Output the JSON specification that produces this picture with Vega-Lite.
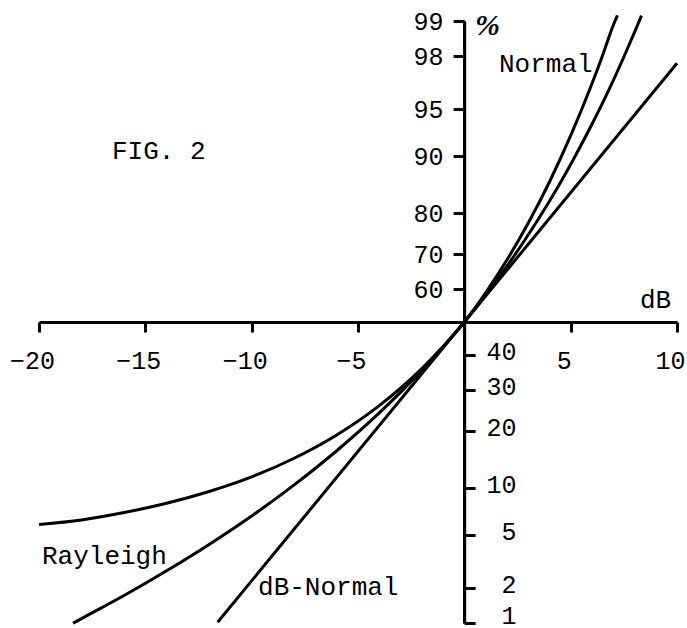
{
  "$schema": "https://vega.github.io/schema/vega-lite/v6.json",
  "width": 638,
  "height": 602,
  "autosize": {"type": "none"},
  "padding": {"left": 39, "top": 21, "right": 10, "bottom": 5},
  "background": "white",
  "config": {
    "view": {"stroke": null},
    "axis": {
      "grid": false,
      "domainColor": "black",
      "domainWidth": 3,
      "tickColor": "black",
      "tickWidth": 3,
      "tickSize": 11,
      "labelColor": "black",
      "labelFont": "Liberation Mono",
      "labelFontSize": 25,
      "labelFlush": false,
      "labelOverlap": false
    }
  },
  "datasets": {
    "curves": [
      {"curve": "Normal", "db": -20, "z": -1.565},
      {"curve": "Normal", "db": -18, "z": -1.53},
      {"curve": "Normal", "db": -16, "z": -1.473},
      {"curve": "Normal", "db": -14, "z": -1.401},
      {"curve": "Normal", "db": -12, "z": -1.31},
      {"curve": "Normal", "db": -10, "z": -1.197},
      {"curve": "Normal", "db": -8, "z": -1.053},
      {"curve": "Normal", "db": -6, "z": -0.873},
      {"curve": "Normal", "db": -4, "z": -0.646},
      {"curve": "Normal", "db": -2, "z": -0.36},
      {"curve": "Normal", "db": -1, "z": -0.19},
      {"curve": "Normal", "db": 0, "z": 0},
      {"curve": "Normal", "db": 1, "z": 0.226},
      {"curve": "Normal", "db": 2, "z": 0.479},
      {"curve": "Normal", "db": 3, "z": 0.763},
      {"curve": "Normal", "db": 4, "z": 1.082},
      {"curve": "Normal", "db": 5, "z": 1.44},
      {"curve": "Normal", "db": 6, "z": 1.841},
      {"curve": "Normal", "db": 6.5, "z": 2.06},
      {"curve": "Normal", "db": 7, "z": 2.292},
      {"curve": "Normal", "db": 7.2, "z": 2.37},
      {"curve": "Rayleigh", "db": -18.4, "z": -2.328},
      {"curve": "Rayleigh", "db": -18, "z": -2.292},
      {"curve": "Rayleigh", "db": -16, "z": -2.114},
      {"curve": "Rayleigh", "db": -14, "z": -1.923},
      {"curve": "Rayleigh", "db": -12, "z": -1.719},
      {"curve": "Rayleigh", "db": -10, "z": -1.499},
      {"curve": "Rayleigh", "db": -8, "z": -1.259},
      {"curve": "Rayleigh", "db": -6, "z": -0.995},
      {"curve": "Rayleigh", "db": -4, "z": -0.703},
      {"curve": "Rayleigh", "db": -2, "z": -0.374},
      {"curve": "Rayleigh", "db": -1, "z": -0.193},
      {"curve": "Rayleigh", "db": 0, "z": 0},
      {"curve": "Rayleigh", "db": 1, "z": 0.207},
      {"curve": "Rayleigh", "db": 2, "z": 0.431},
      {"curve": "Rayleigh", "db": 3, "z": 0.672},
      {"curve": "Rayleigh", "db": 4, "z": 0.933},
      {"curve": "Rayleigh", "db": 5, "z": 1.218},
      {"curve": "Rayleigh", "db": 6, "z": 1.528},
      {"curve": "Rayleigh", "db": 7, "z": 1.866},
      {"curve": "Rayleigh", "db": 7.5, "z": 2.048},
      {"curve": "Rayleigh", "db": 8, "z": 2.238},
      {"curve": "Rayleigh", "db": 8.33, "z": 2.368},
      {"curve": "dB-Normal", "db": -11.6, "z": -2.32},
      {"curve": "dB-Normal", "db": 10, "z": 2.0}
    ],
    "labels": [
      {"label": "FIG. 2", "db": -16.57, "z": 1.26},
      {"label": "Normal", "db": 1.63, "z": 1.932},
      {"label": "Rayleigh", "db": -19.86, "z": -1.87},
      {"label": "dB-Normal", "db": -9.7, "z": -2.11},
      {"label": "dB", "db": 8.26, "z": 0.108}
    ],
    "pct": [
      {"label": "%", "db": 0.5, "z": 2.218}
    ]
  },
  "encoding": {
    "x": {
      "field": "db",
      "type": "quantitative",
      "scale": {"domain": [-20, 10], "nice": false, "zero": false},
      "axis": {
        "orient": "bottom",
        "offset": -301,
        "values": [-20, -15, -10, -5, 5, 10],
        "tickSize": 10,
        "labelBaseline": "alphabetic",
        "labelPadding": 36,
        "labelOffset": -7,
        "title": null
      }
    }
  },
  "layer": [
    {
      "data": {"name": "curves"},
      "mark": {"type": "line", "color": "black", "strokeWidth": 3, "clip": false, "interpolate": "monotone"},
      "encoding": {
        "y": {
          "field": "z",
          "type": "quantitative",
          "scale": {"domain": [-2.3263, 2.3263], "nice": false, "zero": false},
          "axis": {
            "orient": "left",
            "offset": -425.1,
            "values": [0.2533, 0.5244, 0.8416, 1.2816, 1.6449, 2.0537, 2.3263],
            "labelExpr": "datum.value > 2.3 ? '99' : datum.value > 2 ? '98' : datum.value > 1.6 ? '95' : datum.value > 1.2 ? '90' : datum.value > 0.8 ? '80' : datum.value > 0.5 ? '70' : '60'",
            "labelPadding": 10,
            "labelBaseline": "middle",
            "title": null
          }
        },
        "detail": {"field": "curve", "type": "nominal"}
      }
    },
    {
      "data": {"name": "labels"},
      "mark": {"type": "text", "font": "Liberation Mono", "fontSize": 26, "align": "left", "baseline": "alphabetic", "color": "black", "clip": false},
      "encoding": {
        "y": {
          "field": "z",
          "type": "quantitative",
          "axis": {
            "orient": "right",
            "offset": -212.9,
            "values": [-0.2533, -0.5244, -0.8416, -1.2816, -1.6449, -2.0537, -2.3263],
            "labelExpr": "datum.value < -2.3 ? '1' : datum.value < -2 ? '2' : datum.value < -1.6 ? '5' : datum.value < -1.2 ? '10' : datum.value < -0.8 ? '20' : datum.value < -0.5 ? '30' : '40'",
            "labelAlign": "right",
            "labelPadding": 41,
            "labelBaseline": "middle",
            "labelOffset": {"condition": {"test": "datum.value < -2.3", "value": -8}, "value": -3},
            "title": null
          }
        },
        "text": {"field": "label", "type": "nominal"}
      }
    },
    {
      "data": {"name": "pct"},
      "mark": {"type": "text", "font": "Liberation Serif", "fontSize": 30, "fontWeight": "bold", "fontStyle": "italic", "align": "left", "baseline": "alphabetic", "color": "black", "clip": false},
      "encoding": {
        "y": {"field": "z", "type": "quantitative", "axis": null},
        "text": {"field": "label", "type": "nominal"}
      }
    }
  ],
  "resolve": {"axis": {"y": "independent"}}
}
